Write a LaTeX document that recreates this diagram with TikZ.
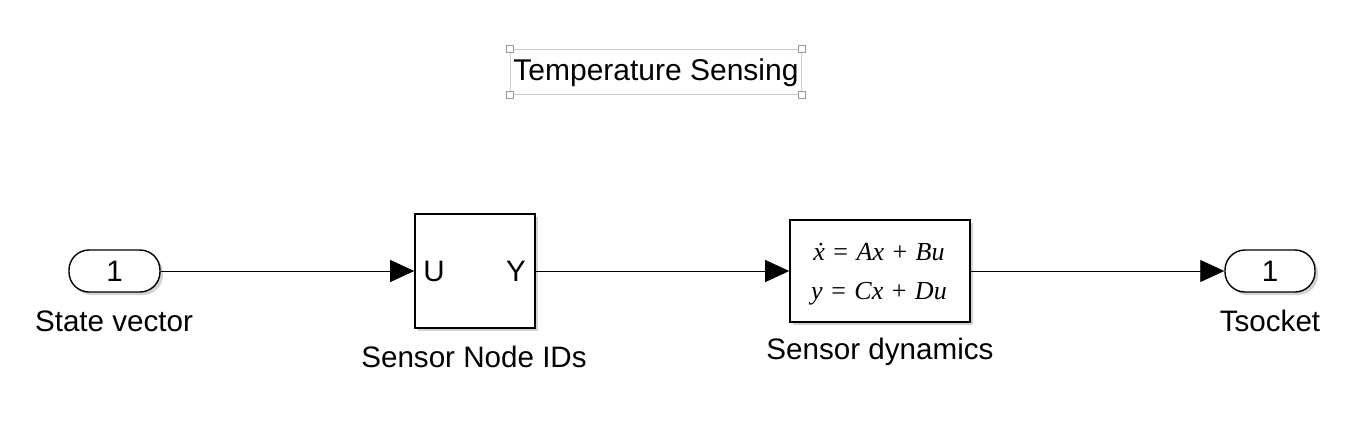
\documentclass[tikz,border=0pt]{standalone}
\usepackage{fontspec}
\setmainfont{Liberation Sans}
\newfontfamily\tnr{Liberation Serif}
\usetikzlibrary{arrows.meta,shadows}
\newcommand{\eqsp}{\hspace{8.5pt}}
\begin{document}
\begin{tikzpicture}[x=1pt,y=-1pt,
  lbl/.style={font=\fontsize{29.6}{32}\selectfont, inner sep=0pt},
  eqs/.style={font=\tnr\fontsize{26}{28}\selectfont, inner sep=0pt},
  blk/.style={draw, line width=1.6pt, fill=white, inner sep=0pt,
    drop shadow={shadow xshift=3pt, shadow yshift=-3pt, opacity=0.35, fill=gray}},
  port/.style={blk, rounded corners=20pt, line width=1.4pt},
  sig/.style={line width=0.8pt, -{Triangle[length=24pt,width=22pt]}},
  handle/.style={draw=gray!80, line width=0.7pt, fill=white, minimum size=7pt, inner sep=0pt}]
\useasboundingbox (0,0) rectangle (1368,426);
% title
\node[draw=gray!40, line width=0.7pt, minimum width=291pt, minimum height=45pt, inner sep=0pt] (title) at (655.5,71.5) {};
\node[font=\fontsize{30}{32}\selectfont, inner sep=0pt] (tt) at (656,73) {Temperature Sensing};
\node[handle] (h1) at (title.north west) {};
\node[handle] (h2) at (title.north east) {};
\node[handle] (h3) at (title.south west) {};
\node[handle] (h4) at (title.south east) {};
% inport
\node[port, minimum width=91pt, minimum height=42pt] (in) at (114.5,271) {};
\node[lbl] (inn) at (in.center) {1};
\node[lbl] (inl) at (114,321) {State vector};
% sensor node ids
\node[blk, minimum width=120pt, minimum height=114pt] (ids) at (475,271) {};
\node[lbl] (u) at (434,271) {U};
\node[lbl] (y) at (516,271) {Y};
\node[lbl] (idsl) at (474,357) {Sensor Node IDs};
% state space
\node[blk, minimum width=180pt, minimum height=102pt] (ss) at (880,271) {};
\node[eqs] (eq1) at (879,252) {\itshape \.{x}\eqsp\upshape=\eqsp\itshape Ax\eqsp\upshape+\eqsp\itshape Bu};
\node[eqs] (eq2) at (879,294) {\itshape y\eqsp\upshape=\eqsp\itshape Cx\eqsp\upshape+\eqsp\itshape Du};
\node[lbl] (ssl) at (880,352) {Sensor dynamics};
% outport
\node[port, minimum width=90pt, minimum height=42pt] (out) at (1270,271) {};
\node[lbl] (outn) at (out.center) {1};
\node[lbl] (outl) at (1270,321) {Tsocket};
% signals
\draw[sig] (in.east) -- (ids.west);
\draw[sig] (ids.east) -- (ss.west);
\draw[sig] (ss.east) -- (out.west);
\end{tikzpicture}
\end{document}
